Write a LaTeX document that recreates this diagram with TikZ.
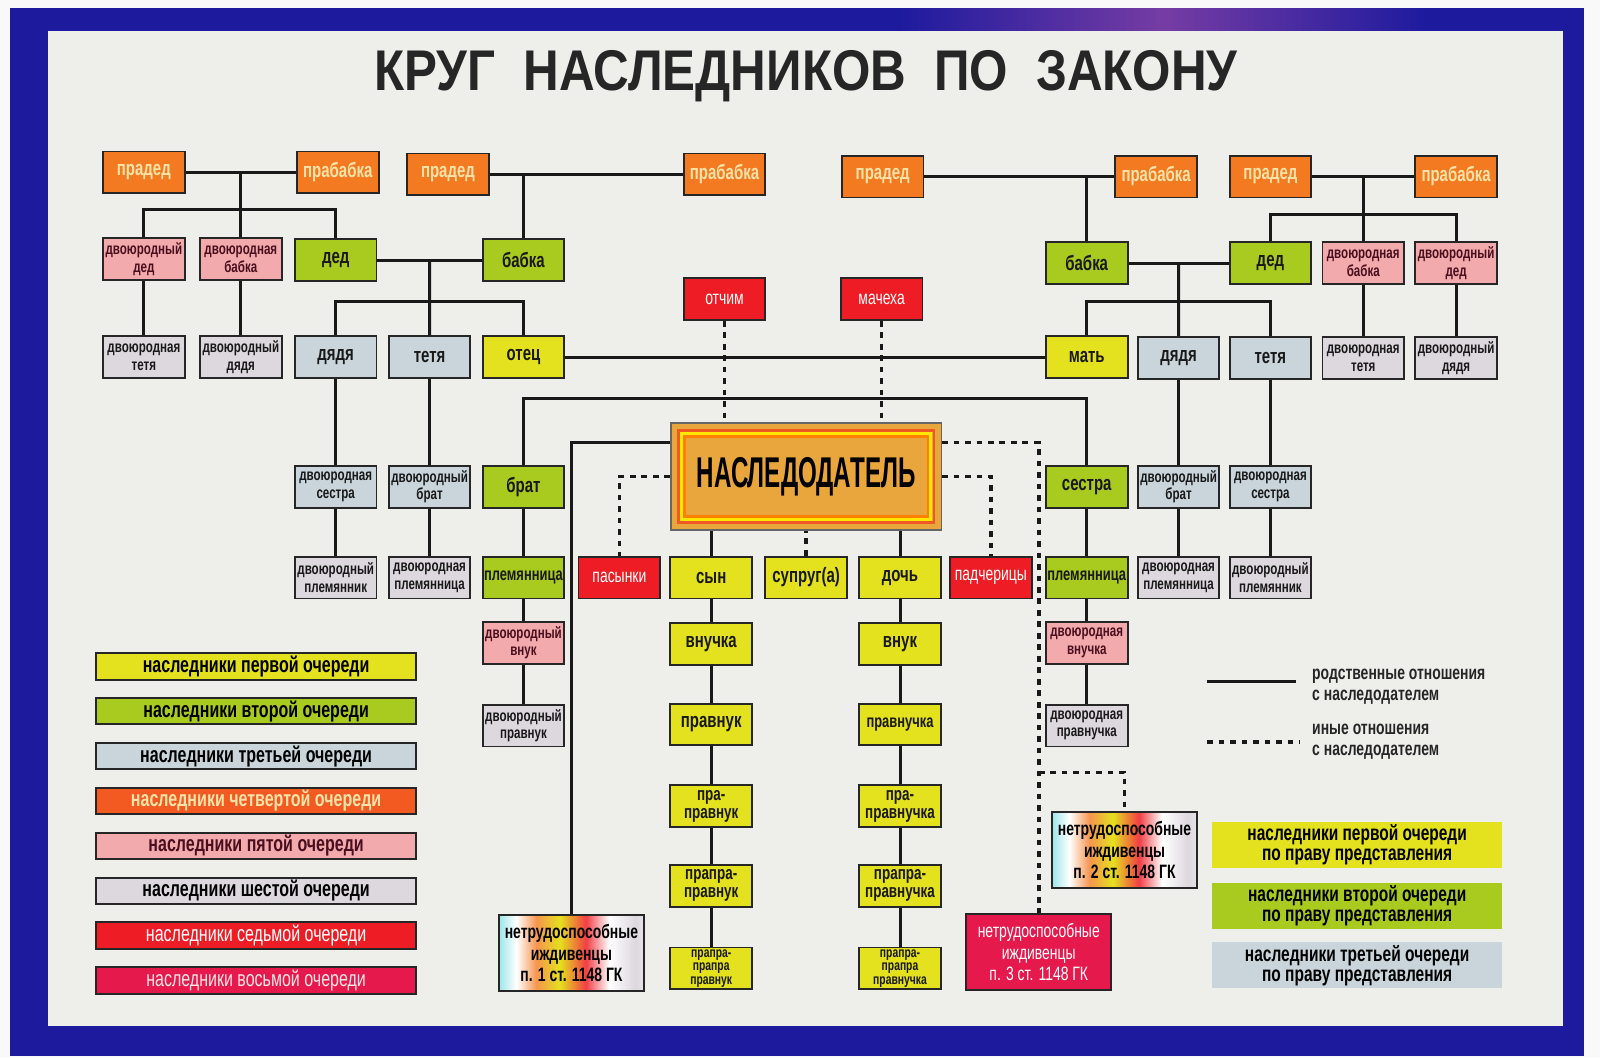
\documentclass[tikz,border=0pt]{standalone}
\usepackage{graphicx}
\usepackage{fontspec}
\newfontfamily\cond{Liberation Sans}[FakeStretch=0.72]
\newfontfamily\titlefnt{Liberation Sans}[FakeStretch=0.86]
\usetikzlibrary{positioning,calc}

\definecolor{first}{HTML}{E4E11E}
\definecolor{second}{HTML}{A9CB1F}
\definecolor{third}{HTML}{C9D5DB}
\definecolor{fourth}{HTML}{F47A22}
\definecolor{fourthleg}{HTML}{F25A22}
\definecolor{fourthtxt}{HTML}{FBE3A8}
\definecolor{fifth}{HTML}{F3AAAC}
\definecolor{fifthtxt}{HTML}{4A0F1E}
\definecolor{sixth}{HTML}{DDD7DE}
\definecolor{seventh}{HTML}{EE1C24}
\definecolor{eighth}{HTML}{E5194C}
\definecolor{frameblue}{HTML}{1D1A9E}
\definecolor{paper}{HTML}{EEEEEB}
\definecolor{gold}{HTML}{E9A63C}
\definecolor{deeporange}{HTML}{F05A22}

\pgfdeclarehorizontalshading{stripes}{100bp}{color(0bp)=(second!60!first); color(14bp)=(first!50!white); color(24bp)=(third!70!cyan); color(31bp)=(white); color(38bp)=(fourth!80!white); color(46bp)=(first); color(55bp)=(seventh!85!white); color(63bp)=(white); color(72bp)=(sixth); color(82bp)=(white); color(92bp)=(seventh); color(100bp)=(seventh)}

\tikzset{
  kin/.style = {draw = black!85, line width = 1.3pt, shape = rectangle, minimum width = 2cm, minimum height = 1.025cm, inner sep = 0pt, align = center, text = black!90, font = \cond\bfseries\fontsize{14.5}{15}\selectfont},
  two/.style = {font = \cond\bfseries\fontsize{11.2}{12.2}\selectfont},
  two12/.style = {font = \cond\bfseries\fontsize{13}{12.5}\selectfont},
  tri/.style = {font = \cond\bfseries\fontsize{10}{9.3}\selectfont},
  snug/.style = {font = \cond\bfseries\fontsize{12.5}{13}\selectfont},
  q1/.style = {kin, fill = first},
  q2/.style = {kin, fill = second},
  q3/.style = {kin, fill = third},
  q4/.style = {kin, fill = fourth, text = fourthtxt},
  q5/.style = {kin, fill = fifth, text = fifthtxt},
  q6/.style = {kin, fill = sixth},
  q7/.style = {kin, fill = seventh, text = white, font = \cond\fontsize{13.5}{14}\selectfont},
  dep/.style = {draw = black!85, line width = 1.3pt, minimum width = 3.55cm, minimum height = 1.875cm, inner sep = 0pt, align = center, font = \cond\bfseries\fontsize{13.5}{15}\selectfont},
  testator/.style = {draw = black!60, line width = 1pt, fill = gold, minimum width = 6.625cm, minimum height = 2.625cm, inner sep = 0pt, font = \cond\bfseries\fontsize{30}{30}\selectfont},
  legbar/.style = {draw = black!85, line width = 1.4pt, minimum width = 7.85cm, minimum height = 0.65cm, inner sep = 0pt, font = \cond\bfseries\fontsize{15.5}{16}\selectfont},
  repbox/.style = {minimum width = 7.1cm, minimum height = 1.125cm, inner sep = 0pt, align = center, font = \cond\bfseries\fontsize{15}{14}\selectfont},
  link/.style = {line width = 2.1pt, black!90},
  other/.style = {line width = 2.4pt, black!90, dash pattern = on 4pt off 4pt}
}

\begin{document}
\begin{tikzpicture}[x = 0.025cm, y = -0.025cm]
\useasboundingbox (0,0) rectangle (1568,1037);
% frame
\fill[white!95!gray] (0,0) rectangle (1568,1037);
\fill[frameblue] (10,8) rectangle (1552,1035);
\shade[left color = frameblue, right color = frameblue, middle color = violet!55!frameblue!80!white] (880,8) rectangle (1400,30);
\fill[paper] (47,30) rectangle (1532,1005);

\node[font = \titlefnt\bfseries\fontsize{40}{40}\selectfont, text = black!85] (title) at (790,75) {КРУГ\hspace{0.25em} НАСЛЕДНИКОВ\hspace{0.25em} ПО\hspace{0.25em} ЗАКОНУ};

% great-grandparents
\node[q4] (pdA) at (141,169) {прадед};
\node[q4] (pbA) at (331,169) {прабабка};
\node[q4] (pdB) at (439,171) {прадед};
\node[q4] (pbB) at (710,171) {прабабка};
\node[q4] (pdC) at (865,173) {прадед};
\node[q4] (pbC) at (1133,173) {прабабка};
\node[q4] (pdD) at (1245,173) {прадед};
\node[q4] (pbD) at (1427,173) {прабабка};

% grandparents
\node[q5, two] (ddA) at (141,254) {двоюродный\\дед};
\node[q5, two] (dbA) at (236,254) {двоюродная\\бабка};
\node[q2] (dedA) at (329,255) {дед};
\node[q2] (babA) at (513,255) {бабка};
\node[q2] (babB) at (1065,258) {бабка};
\node[q2] (dedB) at (1245,258) {дед};
\node[q5, two] (dbB) at (1336,258) {двоюродная\\бабка};
\node[q5, two] (ddB) at (1427,258) {двоюродный\\дед};

% parents
\node[q6, two] (dtA) at (141,350) {двоюродная\\тетя};
\node[q6, two] (dyA) at (236,350) {двоюродный\\дядя};
\node[q3] (uncA) at (329,350) {дядя};
\node[q3] (auntA) at (421,350) {тетя};
\node[q1] (father) at (513,350) {отец};
\node[q1] (mother) at (1065,350) {мать};
\node[q3] (uncB) at (1155,351) {дядя};
\node[q3] (auntB) at (1245,351) {тетя};
\node[q6, two] (dtB) at (1336,351) {двоюродная\\тетя};
\node[q6, two] (dyB) at (1427,351) {двоюродный\\дядя};

\node[q7] (stepf) at (710,293) {отчим};
\node[q7] (stepm) at (864,293) {мачеха};

\node[testator] (heir) at (790,467) {\scalebox{0.78}[1]{НАСЛЕДОДАТЕЛЬ}};
\draw[line width = 1.8pt, deeporange] ([shift = {(8,8)}]heir.north west) rectangle ([shift = {(-8,-8)}]heir.south east);
\draw[line width = 2.1pt, yellow!90!orange] ([shift = {(11,11)}]heir.north west) rectangle ([shift = {(-11,-11)}]heir.south east);
\draw[line width = 1.8pt, orange] ([shift = {(14,14)}]heir.north west) rectangle ([shift = {(-14,-14)}]heir.south east);

% siblings
\node[q3, two] (csA) at (329,477) {двоюродная\\сестра};
\node[q3, two] (cbA) at (421,477) {двоюродный\\брат};
\node[q2] (bro) at (513,477) {брат};
\node[q2] (sis) at (1065,477) {сестра};
\node[q3, two] (cbB) at (1155,477) {двоюродный\\брат};
\node[q3, two] (csB) at (1245,477) {двоюродная\\сестра};

% children
\node[q6, two] (cnA) at (329,566) {двоюродный\\племянник};
\node[q6, two] (cniA) at (421,566) {двоюродная\\племянница};
\node[q2, snug] (nieceA) at (513,566) {племянница};
\node[q7] (stepson) at (607,566) {пасынки};
\node[q1] (son) at (697,566) {сын};
\node[q1] (spouse) at (790,566) {супруг(а)};
\node[q1] (dau) at (882,566) {дочь};
\node[q7] (stepdau) at (971,566) {падчерицы};
\node[q2, snug] (nieceB) at (1065,566) {племянница};
\node[q6, two] (cniB) at (1155,566) {двоюродная\\племянница};
\node[q6, two] (cnB) at (1245,566) {двоюродный\\племянник};

% grandchildren and further
\node[q5, two] (cgsA) at (513,630) {двоюродный\\внук};
\node[q1] (gd) at (697,631) {внучка};
\node[q1] (gs) at (882,631) {внук};
\node[q5, two] (cgdB) at (1065,630) {двоюродная\\внучка};
\node[q6, two] (cggsA) at (513,711) {двоюродный\\правнук};
\node[q1] (ggs) at (697,710) {правнук};
\node[q1, snug] (ggd) at (882,710) {правнучка};
\node[q6, two] (cggdB) at (1065,711) {двоюродная\\правнучка};
\node[q1, two12] (g3s) at (697,790) {пра-\\правнук};
\node[q1, two12] (g3d) at (882,790) {пра-\\правнучка};
\node[q1, two12] (g4s) at (697,868) {прапра-\\правнук};
\node[q1, two12] (g4d) at (882,868) {прапра-\\правнучка};
\node[q1, tri] (g5s) at (697,949) {прапра-\\прапра\\правнук};
\node[q1, tri] (g5d) at (882,949) {прапра-\\прапра\\правнучка};

% dependants
\node[dep, shading = stripes] (dep1) at (560,934) {нетрудоспособные\\иждивенцы\\п. 1 ст. 1148 ГК};
\node[dep, shading = stripes] (dep2) at (1102,833) {нетрудоспособные\\иждивенцы\\п. 2 ст. 1148 ГК};
\node[dep, fill = eighth, text = white, font = \cond\fontsize{13.5}{15}\selectfont] (dep3) at (1018,933) {нетрудоспособные\\иждивенцы\\п. 3 ст. 1148 ГК};

% ancestors' links
\draw[link] (pdA) -- (pbA);
\draw[link] (dbA.north) -- (dbA.north |- pdA);
\draw[link] (ddA.north) -- ++(0,-27) -| (dedA.north);
\draw[link] (pdB) -- (pbB);
\draw[link] (babA) -- (babA |- pdB);
\draw[link] (dedA) -- (babA);
\coordinate (jB) at ($(dedA)!0.5!(babA)$);
\draw[link] (jB) -- (auntA);
\draw[link] (uncA.north) -- ++(0,-33) -| (father.north);
\draw[link] (ddA) -- (dtA) (dbA) -- (dyA);
\draw[link] (pdC) -- (pbC);
\draw[link] (babB) -- (babB |- pdC);
\draw[link] (babB) -- (dedB);
\coordinate (jC) at ($(babB)!0.5!(dedB)$);
\draw[link] (jC) -- (uncB);
\draw[link] (mother.north) -- ++(0,-33) -| (auntB.north);
\draw[link] (pdD) -- (pbD);
\draw[link] (dbB.north) -- (dbB.north |- pdD);
\draw[link] (dedB.north) -- ++(0,-26) -| (ddB.north);
\draw[link] (dbB) -- (dtB) (ddB) -- (dyB);
\draw[link] (father) -- (mother);

% cousins, siblings and their lines
\draw[link] (uncA) -- (csA) (csA) -- (cnA);
\draw[link] (auntA) -- (cbA) (cbA) -- (cniA);
\draw[link] (uncB) -- (cbB) (cbB) -- (cniB);
\draw[link] (auntB) -- (csB) (csB) -- (cnB);
\draw[link] (bro.north) -- ++(0,-65) -| (sis.north);
\draw[link] (bro) -- (nieceA) (nieceA) -- (cgsA) (cgsA) -- (cggsA);
\draw[link] (sis) -- (nieceB) (nieceB) -- (cgdB) (cgdB) -- (cggdB);

% testator's lines
\draw[other] (stepf) -- (stepf |- heir.north);
\draw[other] (stepm) -- (stepm |- heir.north);
\draw[link] ([shift = {(0,20)}]heir.north west) -| (dep1.north);
\draw[other] (heir.west) -| (stepson.north);
\draw[link] (son) -- (son |- heir.south);
\draw[other] (spouse) -- (heir);
\draw[link] (dau) -- (dau |- heir.south);
\draw[other] (heir.east) -| (stepdau.north);
\draw[other] ([shift = {(0,20)}]heir.north east) -| (dep3.north);
\coordinate (fork) at (1018,757);
\draw[other] (fork) -| (dep2.north);
\draw[link] (son) -- (gd) (gd) -- (ggs) (ggs) -- (g3s) (g3s) -- (g4s) (g4s) -- (g5s);
\draw[link] (dau) -- (gs) (gs) -- (ggd) (ggd) -- (g3d) (g3d) -- (g4d) (g4d) -- (g5d);

% legend
\node[legbar, fill = first] (l1) at (251,653) {наследники первой очереди};
\node[legbar, fill = second] (l2) at (251,697) {наследники второй очереди};
\node[legbar, fill = third] (l3) at (251,741) {наследники третьей очереди};
\node[legbar, fill = fourthleg, text = fourthtxt] (l4) at (251,785) {наследники четвертой очереди};
\node[legbar, fill = fifth, text = fifthtxt] (l5) at (251,829) {наследники пятой очереди};
\node[legbar, fill = sixth] (l6) at (251,873) {наследники шестой очереди};
\node[legbar, fill = seventh, text = white, font = \cond\fontsize{15.5}{16}\selectfont] (l7) at (251,917) {наследники седьмой очереди};
\node[legbar, fill = eighth, text = pink!40, font = \cond\fontsize{15.5}{16}\selectfont] (l8) at (251,961) {наследники восьмой очереди};

\coordinate (solidA) at (1183,668);
\coordinate (solidB) at (1270,668);
\coordinate (dashA) at (1183,727);
\coordinate (dashB) at (1274,727);
\draw[link] (solidA) -- (solidB);
\draw[other] (dashA) -- (dashB);
\node[anchor = west, align = left, font = \cond\bfseries\fontsize{13.5}{15}\selectfont, text = black!85] (kinlbl) at (1281,673) {родственные отношения\\с наследодателем};
\node[anchor = west, align = left, font = \cond\bfseries\fontsize{13.5}{15}\selectfont, text = black!85] (otherlbl) at (1281,727) {иные отношения\\с наследодателем};

\node[repbox, fill = first] (r1) at (1330,828) {наследники первой очереди\\по праву представления};
\node[repbox, fill = second] (r2) at (1330,888) {наследники второй очереди\\по праву представления};
\node[repbox, fill = third] (r3) at (1330,946) {наследники третьей очереди\\по праву представления};
\end{tikzpicture}
\end{document}
